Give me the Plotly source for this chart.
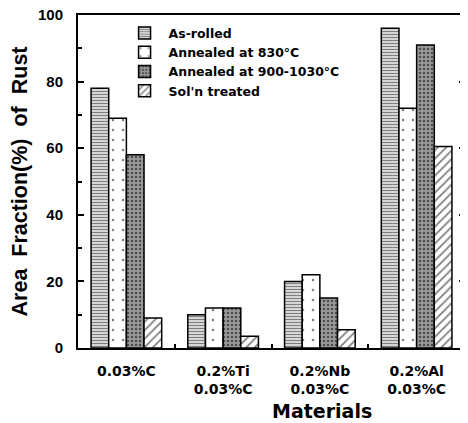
import plotly.graph_objects as go

categories = ["0.03%C", "0.2%Ti<br>0.03%C", "0.2%Nb<br>0.03%C", "0.2%Al<br>0.03%C"]
as_rolled = [78, 10, 20, 96]
annealed_830 = [69, 12, 22, 72]
annealed_900 = [58, 12, 15, 91]
soln_treated = [9, 3.5, 5.5, 60.5]
series_names = ["As-rolled", "Annealed at 830°C", "Annealed at 900-1030°C", "Sol'n treated"]

WIDE = "DejaVu Sans, Verdana, sans-serif"
NARROW = "Liberation Sans, Arial, sans-serif"

patterns = [
    dict(shape="-", fgcolor="black", bgcolor="white", size=3, solidity=0.55),
    dict(shape=".", fgcolor="black", bgcolor="white", size=10, solidity=0.05),
    dict(shape=".", fgcolor="black", bgcolor="#9a9a9a", size=4, solidity=0.3),
    dict(shape="/", fgcolor="black", bgcolor="white", size=6, solidity=0.3),
]

fig = go.Figure()
for name, vals, pat in zip(series_names, [as_rolled, annealed_830, annealed_900, soln_treated], patterns):
    fig.add_trace(go.Bar(
        x=categories, y=vals, name=name,
        marker=dict(color="white", pattern=pat, line=dict(color="black", width=1.5)),
    ))

# page body has an 8px margin, so the figure is sized 8px smaller
fig.update_layout(
    width=460, height=415,
    margin=dict(l=70, r=3, t=7, b=75),
    paper_bgcolor="white", plot_bgcolor="white",
    barmode="group", bargap=0.27, bargroupgap=0,
    font=dict(family=WIDE, color="black", size=13),
    showlegend=True,
    legend=dict(x=0.11, y=0.99, xanchor="left", yanchor="top",
                bgcolor="rgba(0,0,0,0)", font=dict(size=12.5, family=WIDE, weight="bold"),
                tracegroupgap=0, itemwidth=38),
    annotations=[dict(text="<b>Materials</b>", x=(322 - 78) / 387, xref="paper",
                      y=-(411 - 348) / 333, yref="paper", xanchor="center", yanchor="middle",
                      showarrow=False, font=dict(size=19, family=WIDE))],
)

fig.update_xaxes(
    automargin=False,
    showline=True, linecolor="black", linewidth=2, mirror=True,
    ticks="inside", tickson="boundaries", ticklen=4, tickcolor="black", tickwidth=2,
    ticklabelstandoff=9,
    tickfont=dict(size=14, family=WIDE, weight="bold"),
    showgrid=False,
)
fig.update_yaxes(
    automargin=False,
    range=[0, 100], dtick=20, showline=True, linecolor="black", linewidth=2, mirror="ticks",
    ticks="inside", ticklen=6, tickcolor="black", tickwidth=2, ticklabelstandoff=10,
    ticklabeloverflow="allow",
    minor=dict(ticks="inside", dtick=10, ticklen=4, tickcolor="black", tickwidth=2),
    tickfont=dict(size=15, family=NARROW, weight="bold"),
    showgrid=False, zeroline=False,
    title=dict(text="<b>Area  Fraction(%)  of  Rust</b>", font=dict(size=21.5, family=NARROW), standoff=9),
)

fig.write_html("out.html")
